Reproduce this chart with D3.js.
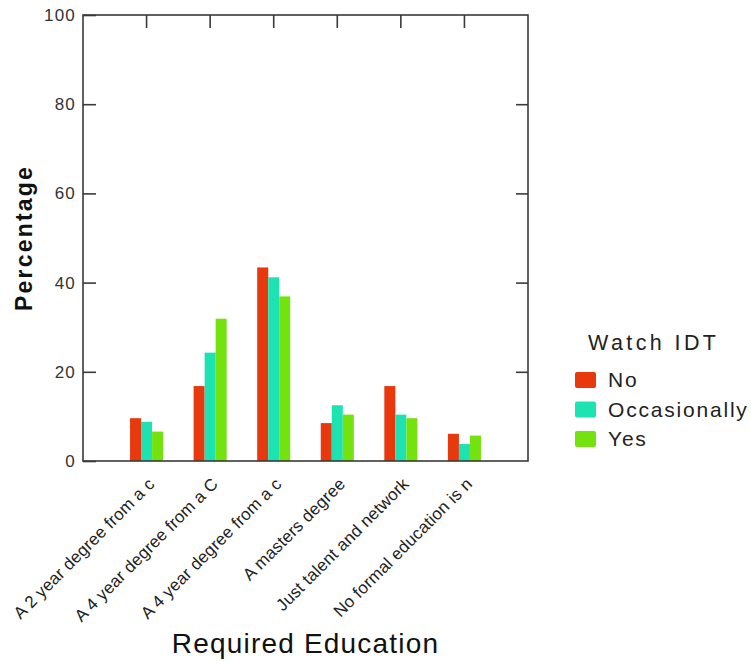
<!DOCTYPE html>
<html>
<head>
<meta charset="utf-8">
<script src="https://cdn.jsdelivr.net/npm/d3@7"></script>
<style>
  html, body { margin: 0; padding: 0; background: #fff; }
  svg { display: block; font-family: Arial, "Liberation Sans", sans-serif; }
</style>
</head>
<body>
<svg id="chart" width="751" height="662"></svg>
<script>
const categories = [
  "A 2 year degree from a c",
  "A 4 year degree from a C",
  "A 4 year degree from a c",
  "A masters degree",
  "Just talent and network",
  "No formal education is n"
];
const seriesNames = ["No", "Occasionally", "Yes"];
const seriesColors = ["#e8380e", "#1de3b3", "#74e20f"];
const valuesNo = [9.6, 16.8, 43.4, 8.5, 16.8, 6.1];
const valuesOccasionally = [8.8, 24.3, 41.2, 12.5, 10.4, 3.8];
const valuesYes = [6.6, 31.9, 36.9, 10.4, 9.6, 5.7];
const yTicks = [0, 20, 40, 60, 80, 100];
const legendTitle = "Watch IDT";
const xTitle = "Required Education";
const yTitle = "Percentage";

const seriesValues = [valuesNo, valuesOccasionally, valuesYes];

const svg = d3.select("#chart");
const plot = { left: 83, right: 528, top: 15, bottom: 461 };
const axisColor = "#3a3a3a";

const x0 = d3.scaleBand().domain(categories).range([plot.left, plot.right])
  .paddingInner(0).paddingOuter(0.5);
const groupWidth = x0.bandwidth() * 0.52;
const x1 = d3.scaleBand().domain(seriesNames).range([0, groupWidth]).padding(0);
const y = d3.scaleLinear().domain([0, 100]).range([plot.bottom, plot.top]);
const color = d3.scaleOrdinal().domain(seriesNames).range(seriesColors);

// bars
const data = [];
categories.forEach((c, i) => {
  seriesNames.forEach((s, j) => data.push({ cat: c, series: s, value: seriesValues[j][i] }));
});

svg.append("g").selectAll("rect").data(data).join("rect")
  .attr("x", d => x0(d.cat) + x0.bandwidth() / 2 - groupWidth / 2 + x1(d.series))
  .attr("y", d => y(d.value))
  .attr("width", x1.bandwidth())
  .attr("height", d => y(0) - y(d.value))
  .attr("fill", d => color(d.series));

// frame
svg.append("rect")
  .attr("x", plot.left).attr("y", plot.top)
  .attr("width", plot.right - plot.left).attr("height", plot.bottom - plot.top)
  .attr("fill", "none").attr("stroke", axisColor).attr("stroke-width", 1.6);

// left axis (inward ticks)
const yAxisL = svg.append("g").attr("transform", `translate(${plot.left},0)`)
  .call(d3.axisLeft(y).tickValues(yTicks).tickSize(-13).tickPadding(7).tickFormat(d3.format("d")));
yAxisL.select(".domain").remove();
yAxisL.selectAll(".tick line").attr("stroke", axisColor).attr("stroke-width", 1.6);
yAxisL.selectAll(".tick text")
  .attr("font-size", 17).attr("fill", "#333").attr("letter-spacing", 1.2)
  .attr("font-family", "Arial, 'Liberation Sans', sans-serif");

// right axis ticks (inward, no labels)
const yAxisR = svg.append("g").attr("transform", `translate(${plot.right},0)`)
  .call(d3.axisRight(y).tickValues(yTicks.filter(v => v > 0 && v < 100)).tickSize(-12).tickFormat(""));
yAxisR.select(".domain").remove();
yAxisR.selectAll(".tick line").attr("stroke", axisColor).attr("stroke-width", 1.6);

// top axis ticks at category centres (inward)
const xAxisT = svg.append("g").attr("transform", `translate(0,${plot.top})`)
  .call(d3.axisTop(x0).tickSize(-13).tickFormat(""));
xAxisT.select(".domain").remove();
xAxisT.selectAll(".tick line").attr("stroke", axisColor).attr("stroke-width", 1.6);

// category labels, rotated
const xAxisB = svg.append("g").attr("transform", `translate(0,${plot.bottom})`)
  .call(d3.axisBottom(x0).tickSize(0).tickFormat(d => d));
xAxisB.select(".domain").remove();
xAxisB.selectAll(".tick text")
  .attr("font-size", 17).attr("fill", "#222").attr("letter-spacing", 0.2)
  .attr("font-family", "Arial, 'Liberation Sans', sans-serif")
  .attr("text-anchor", "end")
  .attr("dy", null).attr("y", null)
  .attr("transform", "translate(9,24) rotate(-45)");

// axis titles
svg.append("text")
  .attr("x", (plot.left + plot.right) / 2).attr("y", 653)
  .attr("text-anchor", "middle").attr("font-size", 28).attr("letter-spacing", 1.2)
  .attr("fill", "#111").text(xTitle);

svg.append("text")
  .attr("transform", `translate(32,${(plot.top + plot.bottom) / 2}) rotate(-90)`)
  .attr("text-anchor", "middle").attr("font-size", 23).attr("font-weight", "bold")
  .attr("letter-spacing", 2.2).attr("fill", "#111").text(yTitle);

// legend
const legend = svg.append("g");
legend.append("text").attr("x", 588).attr("y", 350)
  .attr("font-size", 21.5).attr("letter-spacing", 3.4).attr("fill", "#222").text(legendTitle);
const items = legend.selectAll("g.item").data(seriesNames).join("g").attr("class", "item")
  .attr("transform", (d, i) => `translate(575,${372 + i * 29.5})`);
items.append("rect").attr("width", 21).attr("height", 16).attr("rx", 2)
  .attr("fill", d => color(d));
items.append("text").attr("x", 33).attr("y", 15)
  .attr("font-size", 21).attr("letter-spacing", 1.8).attr("fill", "#222").text(d => d);
</script>
</body>
</html>
